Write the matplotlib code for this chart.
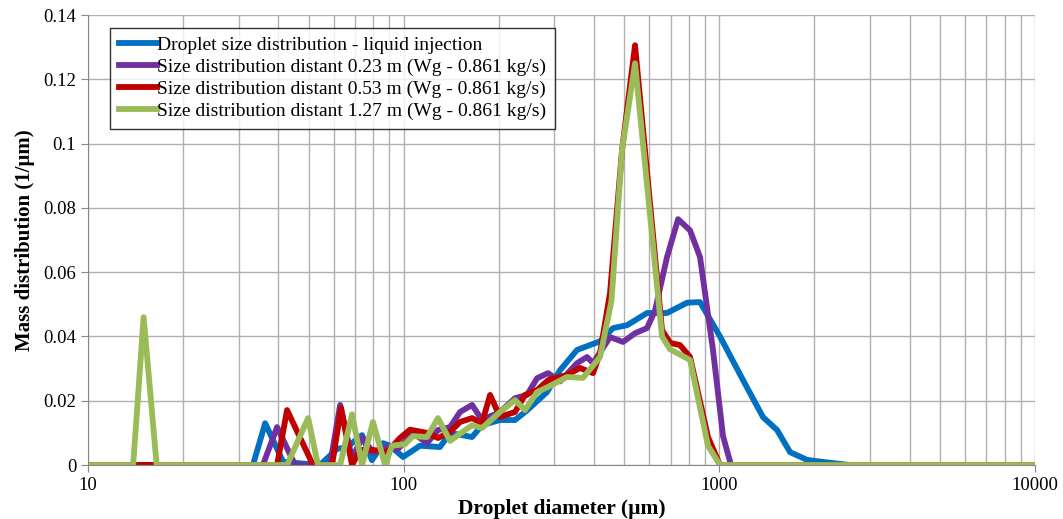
import matplotlib
matplotlib.use('Agg')
import matplotlib.pyplot as plt
from matplotlib.ticker import LogLocator, FixedLocator, NullFormatter

# Droplet size distribution - liquid injection
d_inj = [10, 33.3, 36.4, 41.5, 54.3, 61.5, 66.1, 73.8, 79.3, 86.0, 90.5, 99.5,
         112.6, 130.3, 140.2, 164.6, 177, 201.8, 225.2, 245.8, 284.4, 312.7,
         353.9, 418.6, 460.3, 509.7, 589.8, 682.3, 789.6, 868, 1004, 1188,
         1374, 1522, 1674, 1894, 2192, 2593, 10000]
m_inj = [0, 0, 0.013, 0.001, 0, 0.005, 0.0056, 0.0093, 0.0015, 0.0068, 0.006,
         0.0025, 0.006, 0.0056, 0.010, 0.0087, 0.0124, 0.014, 0.014, 0.017,
         0.0227, 0.0295, 0.0358, 0.0385, 0.0426, 0.0435, 0.0473, 0.0473,
         0.0505, 0.0507, 0.040, 0.0264, 0.0149, 0.0109, 0.004, 0.0016,
         0.0008, 0, 0]

# distant 0.23 m
d_023 = [10, 35.8, 39.7, 45.3, 58.4, 62.9, 68.6, 73.8, 79.9, 88.5, 95.9, 107,
         118.5, 128.4, 140.2, 150.8, 164.6, 177, 201.8, 225.2, 245.8, 264.4,
         286.5, 312.7, 353.9, 380.7, 397.8, 450.2, 495, 540.3, 589.8, 625,
         682.3, 739.6, 807, 868, 954, 1026.6, 1088, 10000]
m_023 = [0, 0, 0.0118, 0, 0, 0.0187, 0.002, 0.0085, 0.004, 0.0056, 0.005,
         0.010, 0.0068, 0.0109, 0.0118, 0.0165, 0.0187, 0.014, 0.0165, 0.0208,
         0.0218, 0.027, 0.0286, 0.026, 0.0317, 0.0336, 0.0317, 0.0398, 0.0383,
         0.041, 0.0426, 0.048, 0.0647, 0.0765, 0.073, 0.0647, 0.0358, 0.009,
         0, 0]

# distant 0.53 m
d_053 = [10, 39.7, 42.7, 51.6, 59.3, 63.3, 68.6, 72.7, 79.9, 88.5, 97.3, 104.7,
         118.5, 128.4, 140.2, 150.8, 164.6, 177, 187.7, 201.8, 225.2, 242.2,
         264.4, 286.5, 329, 361.7, 397.8, 418.6, 450.2, 491.5, 540.3, 657.9,
         697.5, 750.4, 807, 920, 1004, 10000]
m_053 = [0, 0, 0.0171, 0, 0, 0.0177, 0, 0.0047, 0.0047, 0.004, 0.0084, 0.011,
         0.010, 0.0084, 0.0103, 0.0134, 0.0146, 0.013, 0.0218, 0.015, 0.0165,
         0.0218, 0.0233, 0.0264, 0.028, 0.0302, 0.0286, 0.0348, 0.0535, 0.098,
         0.1306, 0.042, 0.038, 0.0373, 0.0336, 0.0087, 0, 0]

# distant 1.27 m
d_127 = [10, 13.9, 15.0, 16.5, 42.7, 49.8, 53.5, 62.9, 68.6, 73.8, 79.9, 87.3,
         91.8, 101, 107, 118.5, 128.4, 140.2, 164.6, 177, 201.8, 225.2, 242.2,
         264.4, 286.5, 329, 369.8, 418.6, 455, 491.5, 540.3, 657.9, 697.5, 807,
         920, 1004, 10000]
m_127 = [0, 0, 0.046, 0, 0, 0.0146, 0, 0, 0.0158, 0, 0.0134, 0, 0.006, 0.0065,
         0.009, 0.0087, 0.0146, 0.0075, 0.0124, 0.0115, 0.0165, 0.0202, 0.0171,
         0.0227, 0.0243, 0.0274, 0.0271, 0.0336, 0.051, 0.098, 0.125, 0.040,
         0.036, 0.0327, 0.006, 0, 0]

series = [
    (d_inj, m_inj, '#0070C0', 'Droplet size distribution - liquid injection'),
    (d_023, m_023, '#7030A0', 'Size distribution distant 0.23 m (Wg - 0.861 kg/s)'),
    (d_053, m_053, '#C00000', 'Size distribution distant 0.53 m (Wg - 0.861 kg/s)'),
    (d_127, m_127, '#9BBB59', 'Size distribution distant 1.27 m (Wg - 0.861 kg/s)'),
]

plt.rcParams['font.family'] = ['Liberation Serif', 'DejaVu Serif']

fig = plt.figure(figsize=(10.63, 5.19), dpi=100)
ax = fig.add_axes([0.0828, 0.104, 0.891, 0.867])

for x, y, c, lab in series:
    ax.plot(x, y, color=c, linewidth=4.2, label=lab, solid_joinstyle='round')

ax.set_xscale('log')
ax.set_xlim(10, 10000)
ax.set_ylim(0, 0.14)

ax.xaxis.set_major_locator(FixedLocator([10, 100, 1000, 10000]))
ax.xaxis.set_minor_locator(LogLocator(base=10, subs=range(2, 10)))
ax.xaxis.set_minor_formatter(NullFormatter())
ax.set_xticklabels(['10', '100', '1000', '10000'])
yt = [0, 0.02, 0.04, 0.06, 0.08, 0.1, 0.12, 0.14]
ax.set_yticks(yt)
ax.set_yticklabels(['0', '0.02', '0.04', '0.06', '0.08', '0.1', '0.12', '0.14'])

ax.grid(True, which='major', color='#B0B0B0', linewidth=1.0)
ax.grid(True, which='minor', axis='x', color='#B0B0B0', linewidth=1.0)
ax.set_axisbelow(True)

for s in ['top', 'right']:
    ax.spines[s].set_visible(False)
for s in ['left', 'bottom']:
    ax.spines[s].set_color('#888888')

ax.tick_params(axis='both', which='major', labelsize=13.5, color='#888888',
               length=5, direction='out')
ax.tick_params(axis='x', which='minor', length=0)

ax.set_xlabel('Droplet diameter (µm)', fontsize=15.5, fontweight='bold', labelpad=4)
ax.set_ylabel('Mass distribution (1/µm)', fontsize=15, fontweight='bold', labelpad=6)

leg = ax.legend(loc='upper left', bbox_to_anchor=(0.023, 0.972), borderaxespad=0,
                fontsize=14, frameon=True, fancybox=False, handlelength=2.0,
                handletextpad=0.0, labelspacing=0.22, borderpad=0.45)
leg.get_frame().set_edgecolor('black')
leg.get_frame().set_linewidth(1.0)

fig.savefig('out.png', dpi=100)
